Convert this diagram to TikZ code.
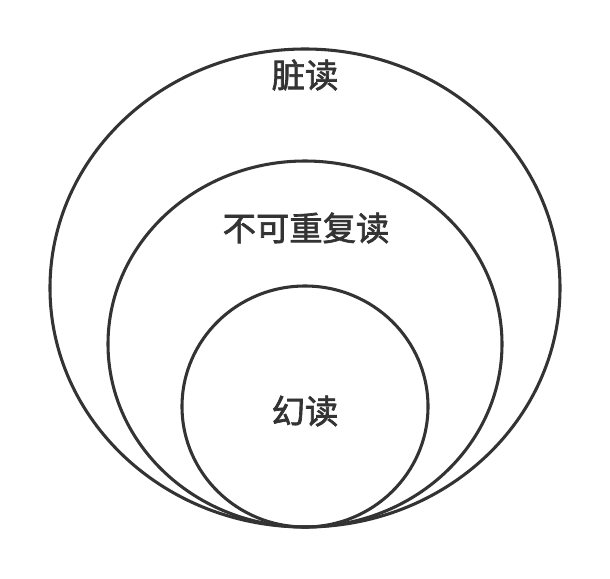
\documentclass[tikz,border=0pt]{standalone}
\usepackage{fontspec}
\newfontfamily\cjk[FakeBold=2]{Noto Sans CJK SC}
\usetikzlibrary{shapes.geometric}
\definecolor{ink}{HTML}{333333}
\tikzset{
  ring/.style={ellipse, draw=ink, line width=2.3pt, inner sep=0pt, outer sep=0pt},
  lbl/.style={text=ink, font=\cjk\fontsize{25}{29}\selectfont, inner sep=0pt}
}
\begin{document}
\begin{tikzpicture}[x=0.75pt,y=-0.75pt]
\useasboundingbox (0,0) rectangle (610,578);
\node[ring, minimum width=510*0.75pt, minimum height=478*0.75pt] (outer) at (305,288) {};
\node[ring, minimum width=394*0.75pt, minimum height=366*0.75pt] (middle) at (305,344) {};
\node[ring, minimum width=246*0.75pt, minimum height=241*0.75pt] (inner) at (305,406.5) {};
\node[lbl] (t1) at (305,75) {脏读};
\node[lbl] (t2) at (306,228) {不可重复读};
\node[lbl] (t3) at (305,411) {幻读};
\end{tikzpicture}
\end{document}
